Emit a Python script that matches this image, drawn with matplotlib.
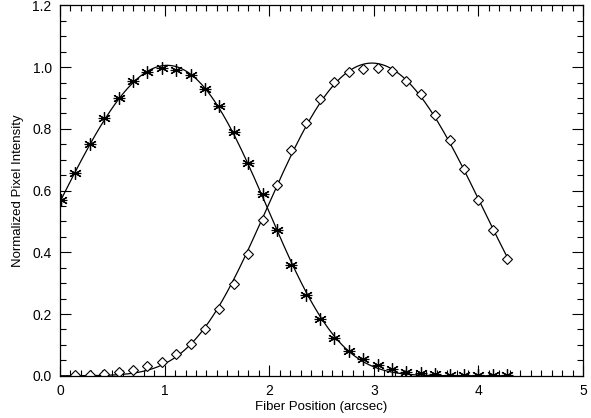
import matplotlib
matplotlib.use('Agg')
import matplotlib.pyplot as plt
import numpy as np

plt.rcParams['font.family'] = ['Liberation Sans', 'DejaVu Sans']

# fiber positions (arcsec)
pos = [0.010, 0.148, 0.285, 0.423, 0.560, 0.698, 0.836, 0.973, 1.111, 1.248,
       1.386, 1.524, 1.661, 1.799, 1.936, 2.074, 2.212, 2.349, 2.487, 2.624,
       2.762, 2.900, 3.037, 3.175, 3.312, 3.450, 3.588, 3.725, 3.863, 4.000,
       4.138, 4.276]

# first star (asterisks)
star1 = [0.568, 0.657, 0.750, 0.836, 0.901, 0.954, 0.984, 0.998, 0.992, 0.973,
         0.930, 0.873, 0.790, 0.691, 0.588, 0.472, 0.358, 0.261, 0.183, 0.124,
         0.081, 0.053, 0.035, 0.021, 0.013, 0.008, 0.005, 0.004, 0.003, 0.002,
         0.002, 0.001]

# second star (diamonds), starts at second position
pos2 = pos[1:]
star2 = [0.002, 0.002, 0.005, 0.012, 0.019, 0.031, 0.046, 0.070, 0.103, 0.152,
         0.215, 0.297, 0.396, 0.504, 0.617, 0.730, 0.819, 0.896, 0.951, 0.983,
         0.994, 0.998, 0.987, 0.954, 0.912, 0.845, 0.765, 0.670, 0.571, 0.472,
         0.378]


def profile_fit(x, y):
    # smooth model: polynomial in log space, weighted toward the bright part
    x = np.asarray(x)
    y = np.asarray(y)
    m = y > 0.01
    c = np.polyfit(x[m], np.log(y[m]), 4, w=y[m])
    return lambda t: np.exp(np.polyval(c, t))


fig = plt.figure(figsize=(5.91, 4.18), dpi=100)
ax = fig.add_axes([0.1015, 0.101, 0.885, 0.886])

xx = np.linspace(0, 4.28, 400)
f1 = profile_fit(pos, star1)
f2 = profile_fit(pos2, star2)
ax.plot(xx, f1(xx), color='black', lw=0.9)
ax.plot(xx, f2(xx), color='black', lw=0.9)

ax.plot(pos, star1, ls='none', marker=(6, 2, 0), ms=9, mew=0.9, color='black')
ax.plot(pos, star1, ls='none', marker='_', ms=8, mew=0.9, color='black')
ax.plot(pos2, star2, ls='none', marker='D', ms=5, mew=0.8, mfc='white', mec='black')

ax.set_xlim(0, 5)
ax.set_ylim(0, 1.2)
ax.set_xticks([0, 1, 2, 3, 4, 5])
ax.set_xticks(np.arange(0, 5.01, 0.1), minor=True)
ax.set_yticks([0.0, 0.2, 0.4, 0.6, 0.8, 1.0, 1.2])
ax.set_yticks(np.arange(0, 1.201, 0.05), minor=True)
ax.set_yticklabels(['0.0', '0.2', '0.4', '0.6', '0.8', '1.0', '1.2'])
ax.tick_params(which='both', direction='in', top=True, right=True,
               labelsize=10, width=0.8, color='black')
ax.tick_params(which='major', length=8, pad=6)
ax.tick_params(which='minor', length=4)
for s in ax.spines.values():
    s.set_linewidth(0.9)

ax.set_xlabel('Fiber Position (arcsec)', fontsize=9.5, labelpad=2)
ax.set_ylabel('Normalized Pixel Intensity', fontsize=9.5, labelpad=6)

fig.savefig('out.png', dpi=100)
